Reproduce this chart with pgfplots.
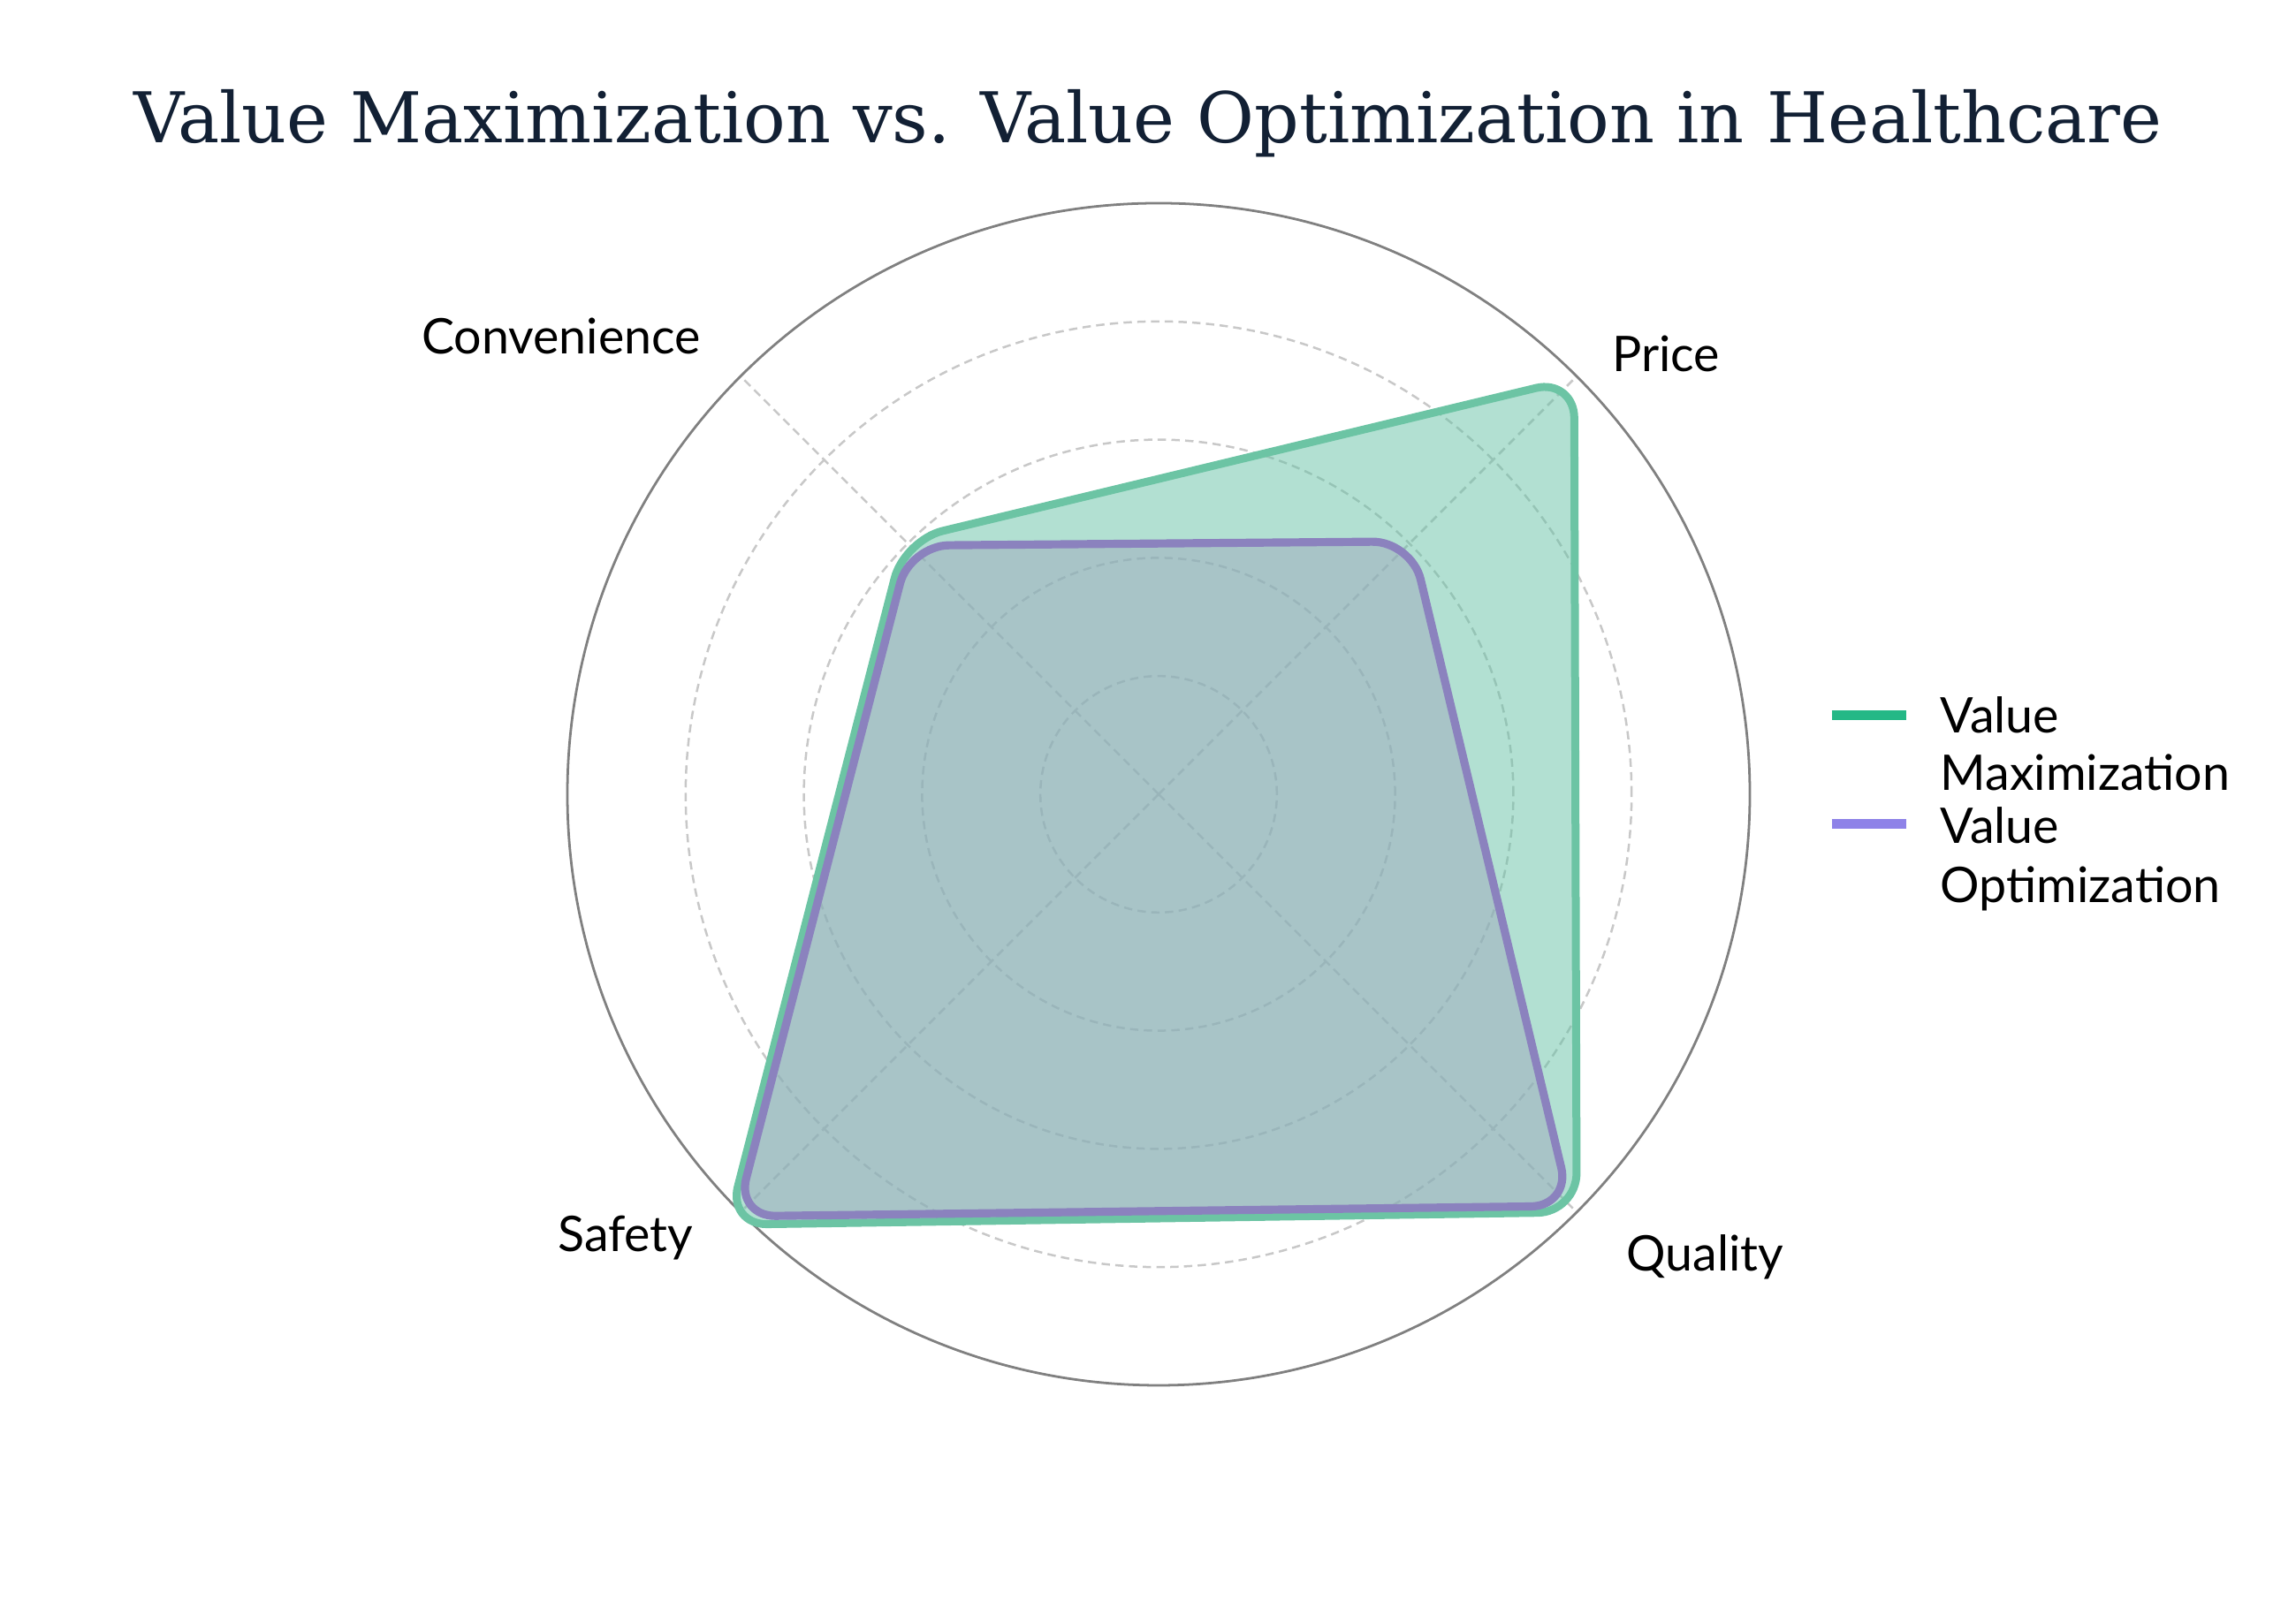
\documentclass[border=0pt]{standalone}
\usepackage{pgfplots}
\pgfplotsset{compat=1.18}
\usepgfplotslibrary{polar}
\usepackage{fontspec}
\setmainfont{Lato}
\newfontfamily\titlefont{DejaVu Serif}

\definecolor{maxline}{RGB}{108,196,164}
\definecolor{maxfill}{RGB}{102,194,165}
\definecolor{optline}{RGB}{139,130,190}
\definecolor{optfill}{RGB}{158,168,190}
\definecolor{legmax}{RGB}{36,184,134}
\definecolor{legopt}{RGB}{142,130,232}
\definecolor{titlecol}{RGB}{18,32,52}
\definecolor{gridcol}{RGB}{200,200,200}

\begin{document}
\begin{tikzpicture}
\path[use as bounding box] (0,0) rectangle (467.64pt,330.66pt);

\begin{polaraxis}[
    at={(235.98pt,168.84pt)}, anchor=center,
    width=240.84pt, height=240.84pt, scale only axis,
    xmin=0, xmax=360, ymin=0, ymax=10,
    xtick={45,135,225,315}, ytick={2,4,6,8},
    xticklabels={,,,}, yticklabels={,,,},
    major tick length=0pt,
    grid=major,
    major grid style={gridcol, line width=0.45pt, dash pattern=on 1.7pt off 1.1pt},
    axis line style={draw=gray, line width=0.5pt},
    y axis line style={draw=none},
    clip=false,
]
% Value Maximization
\addplot[draw=maxline, line width=1.62pt, line join=round, rounded corners=8pt,
    fill=maxfill, fill opacity=0.5]
    coordinates {(45,9.94) (135,6.08) (225,10.3) (315,10.0)} -- cycle;
% Value Optimization
\addplot[draw=optline, line width=1.65pt, line join=round, rounded corners=8pt,
    fill=optfill, fill opacity=0.5]
    coordinates {(45,6.05) (135,5.95) (225,10.1) (315,9.85)} -- cycle;
\end{polaraxis}

% category labels
\begin{scope}[font=\fontsize{10}{12}\selectfont, inner sep=0pt]
\node[anchor=base west] at (328.2pt,254.9pt) {Price};
\node[anchor=base east] at (142.9pt,258.5pt) {Convenience};
\node[anchor=base east] at (141.4pt,75.6pt) {Safety};
\node[anchor=base west] at (331.1pt,71.8pt) {Quality};
\end{scope}

% title
\node[anchor=base, inner sep=0pt, text=titlecol] at (233.8pt,301.6pt)
    {\titlefont\fontsize{14.25}{17}\selectfont Value Maximization vs. Value Optimization in Healthcare};

% legend
\draw[legmax, line width=1.98pt] (373.05pt,185.0pt) -- (388.17pt,185.0pt);
\draw[legopt, line width=1.98pt] (373.05pt,162.8pt) -- (388.17pt,162.8pt);
\begin{scope}[font=\fontsize{10}{12}\selectfont, inner sep=0pt]
\node[anchor=base west] at (395pt,181.4pt) {Value};
\node[anchor=base west] at (395pt,169.56pt) {Maximization};
\node[anchor=base west] at (395pt,158.76pt) {Value};
\node[anchor=base west] at (395pt,146.75pt) {Optimization};
\end{scope}
\end{tikzpicture}
\end{document}
